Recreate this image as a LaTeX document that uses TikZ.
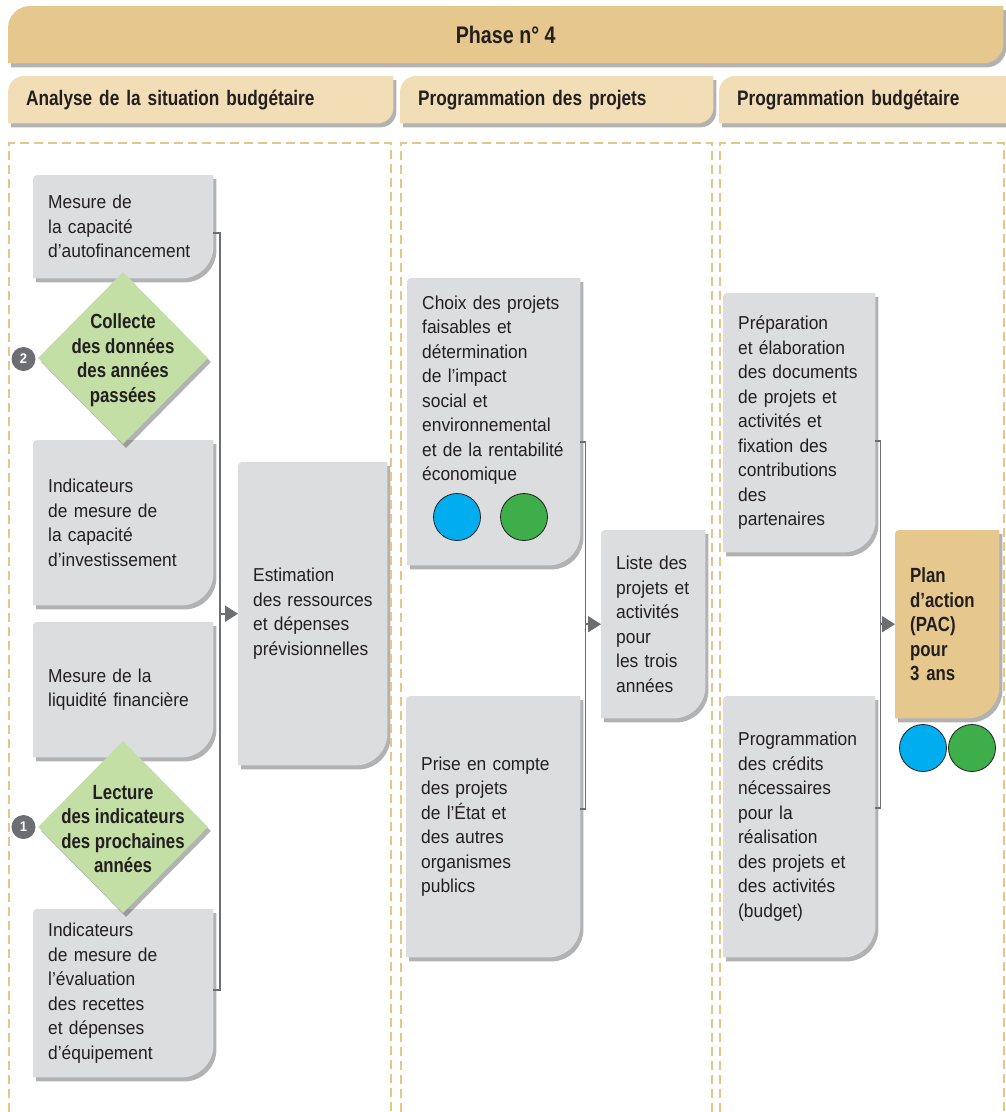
\documentclass[tikz,border=0pt]{standalone}
\usepackage{fontspec}
\setmainfont{Liberation Sans}[FakeStretch=0.93]
\newfontfamily\condbf{Liberation Sans}[FakeStretch=0.82]
\usepackage{tikz}
\usetikzlibrary{shapes.geometric, arrows.meta, backgrounds, shadows}

\definecolor{phasetan}{HTML}{E6C88E}
\definecolor{headtan}{HTML}{F2DEB6}
\definecolor{cardgray}{HTML}{DCDDDF}
\definecolor{leafgreen}{HTML}{C3DFA6}
\definecolor{inkdark}{HTML}{231F20}
\definecolor{linegray}{HTML}{6D6E71}
\definecolor{dashtan}{HTML}{E8C587}
\definecolor{dotblue}{HTML}{00AEEF}
\definecolor{dotgreen}{HTML}{3DAE49}

% card outline: node, fill, top-left radius, bottom-right radius
\newcommand{\cardshape}[4]{%
  \fill[#2, cardshadow]
    ([yshift=-#3pt]#1.north west) arc[start angle=180, end angle=90, radius=#3pt]
    -- (#1.north east) -- ([yshift=#4pt]#1.south east)
    arc[start angle=0, end angle=-90, radius=#4pt]
    -- (#1.south west) -- cycle;
}

\tikzset{
  cardshadow/.style={
    drop shadow={shadow xshift=3pt, shadow yshift=-4pt, fill=black, opacity=0.3}
  },
  cardbox/.style 2 args={
    anchor=north west, inner xsep=15pt, inner ysep=0pt, align=left,
    minimum width=#1pt, text width=\dimexpr#1pt-30pt\relax, minimum height=#2pt,
    text=inkdark, font=\fontsize{18.7}{24.5}\selectfont
  },
  colhead/.style={
    anchor=north west, inner xsep=18pt, inner ysep=0pt, align=left,
    minimum width=#1pt, text width=\dimexpr#1pt-36pt\relax, minimum height=47pt,
    text=inkdark, font=\condbf\bfseries\fontsize{21}{24}\selectfont
  },
  diamondbox/.style={
    diamond, fill=leafgreen, minimum width=170pt, minimum height=172pt,
    inner sep=0pt, cardshadow
  },
  diamondtext/.style={
    align=center, text=inkdark, font=\condbf\bfseries\fontsize{20.5}{24.5}\selectfont
  },
  badge/.style={
    circle, fill=linegray, text=white, minimum size=24pt, inner sep=0pt,
    font=\bfseries\fontsize{14}{14}\selectfont
  },
  dot/.style={circle, draw=inkdark, line width=0.8pt, minimum size=47pt, inner sep=0pt},
  spine/.style={draw=linegray, line width=2pt},
  flowarrow/.style={-{Triangle[length=13pt, width=16pt]}, draw=linegray, fill=linegray, line width=2pt},
  colframe/.style={draw=dashtan, line width=2.2pt, dash pattern=on 9pt off 5pt},
}

\begin{document}
\begin{tikzpicture}[x=1pt, y=-1pt]
  \useasboundingbox (0,0) rectangle (1006,1112);

  % === Column frames ===
  \draw[colframe] (9,1112) |- (391,143) -- (391,1112);
  \draw[colframe] (401,1112) |- (712,143) -- (712,1112);
  \draw[colframe] (720,1112) |- (1004,143) -- (1004,1112);

  % === Headers ===
  \node[anchor=north west, minimum width=995pt, minimum height=57pt, inner sep=0pt,
        text=inkdark, font=\condbf\bfseries\fontsize{24}{26}\selectfont] (phase) at (8,6) {Phase n° 4};
  \node[colhead=385] (hdAnalyse) at (8,76) {Analyse de la situation budgétaire};
  \node[colhead=313] (hdProjets) at (400,76) {Programmation des projets};
  \node[colhead=300] (hdBudget) at (719,76) {Programmation budgétaire};

  % === Analyse de la situation budgétaire ===
  \node[cardbox={180}{103}] (mesAuto) at (33,175)
    {Mesure de\\la capacité\\d’autofinancement};
  \node[cardbox={180}{165}] (indInv) at (33,440)
    {Indicateurs\\de mesure de\\la capacité\\d’investissement};
  \node[cardbox={180}{135}] (liquid) at (33,622)
    {Mesure de la\\liquidité financière};
  \node[cardbox={180}{168}] (indEval) at (33,909)
    {Indicateurs\\de mesure de\\l’évaluation\\des recettes\\et dépenses\\d’équipement};
  \node[cardbox={149}{303}] (estim) at (238,462)
    {Estimation\\\mbox{des ressources}\\et dépenses\\prévisionnelles};

  \node[diamondbox] (collecte) at (123,358) {};
  \node[diamondtext] (collecteTxt) at ([yshift=-2pt]collecte) {Collecte\\des données\\des années\\passées};
  \node[diamondbox] (lecture) at (123,827) {};
  \node[diamondtext] (lectureTxt) at ([yshift=-2pt]lecture) {Lecture\\des indicateurs\\des prochaines\\années};

  \node[badge] (badgeTwo) at (23.5,359) {2};
  \node[badge] (badgeOne) at (23.5,827) {1};

  % === Programmation des projets ===
  \node[cardbox={173}{287}] (choix) at (407,278)
    {Choix des projets\\faisables et\\détermination\\de l’impact\\social et\\environnemental\\\mbox{et de la rentabilité}\\économique\\[42pt]\mbox{}};
  \node[dot, fill=dotblue] (choixBlue) at (457,517) {};
  \node[dot, fill=dotgreen] (choixGreen) at (524,517) {};
  \node[cardbox={174}{261}] (prise) at (406,696)
    {Prise en compte\\des projets\\de l’État et\\des autres\\organismes\\publics};
  \node[cardbox={104}{188}] (liste) at (601,530)
    {Liste des\\\mbox{projets et}\\activités\\pour\\les trois\\années};

  % === Programmation budgétaire ===
  \node[cardbox={152}{259}] (prepa) at (723,293)
    {Préparation\\et élaboration\\des documents\\de projets et\\activités et\\fixation des\\contributions\\des\\partenaires};
  \node[cardbox={152}{261}] (credits) at (723,696)
    {Programmation\\des crédits\\nécessaires\\pour la\\réalisation\\des projets et\\des activités\\(budget)};
  \node[cardbox={104}{188}, font=\condbf\bfseries\fontsize{20.5}{24.5}\selectfont] (plan) at (895,530)
    {Plan\\d’action\\(PAC)\\pour\\3 ans};
  \node[dot, fill=dotblue] (planBlue) at (923,748) {};
  \node[dot, fill=dotgreen] (planGreen) at (972,748) {};

  % === Card backgrounds ===
  \begin{scope}[on background layer]
    \cardshape{phase}{phasetan}{22}{20}
    \foreach \h in {hdAnalyse, hdProjets, hdBudget}
      {\cardshape{\h}{headtan}{16}{16}}
    \foreach \c in {mesAuto, indInv, liquid, indEval, estim, choix, prise, liste, prepa, credits}
      {\cardshape{\c}{cardgray}{4}{32}}
    \cardshape{plan}{phasetan}{4}{32}
  \end{scope}

  % === Brackets and arrows ===
  \coordinate (spineA) at ([xshift=7pt]mesAuto.east);
  \draw[spine] ([yshift=-6pt]mesAuto.east) -- ++(7pt,0) |- ([yshift=3pt]indEval.east);
  \draw[flowarrow] (spineA |- estim.west) -- (estim.west);

  \coordinate (spineB) at ([xshift=5pt]choix.east);
  \draw[spine, line width=1.6pt] ([yshift=-20pt]choix.east) -- ++(5pt,0) |- ([yshift=18pt]prise.east);
  \draw[flowarrow] (spineB |- liste.west) -- (liste.west);

  \coordinate (spineC) at ([xshift=5pt]prepa.east);
  \draw[spine, line width=1.6pt] ([yshift=-18.5pt]prepa.east) -- ++(5pt,0) |- ([yshift=18.5pt]credits.east);
  \draw[flowarrow] (spineC |- plan.west) -- (plan.west);

\end{tikzpicture}
\end{document}
